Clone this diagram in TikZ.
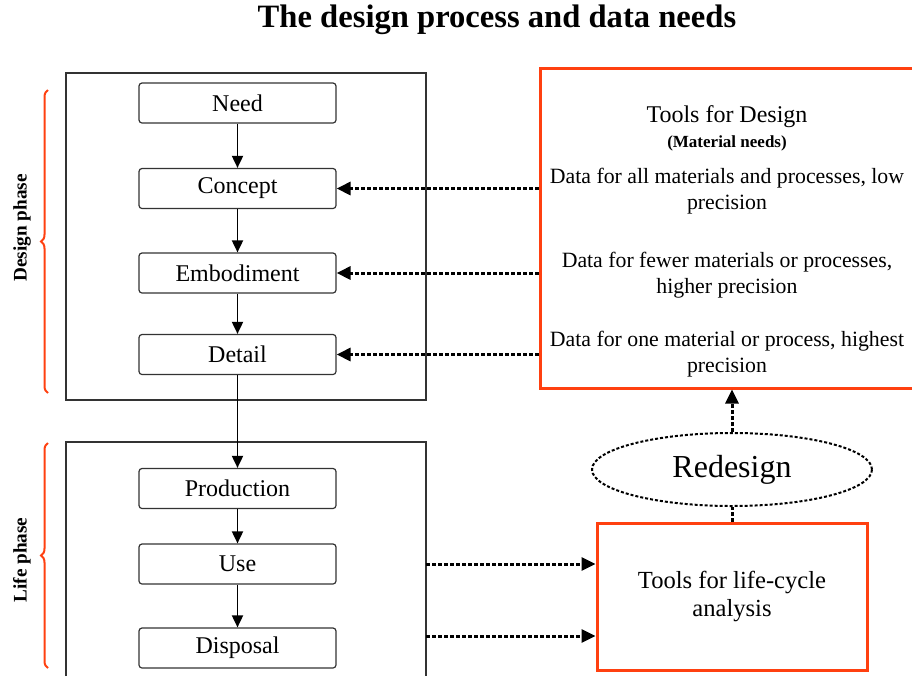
\documentclass[tikz,border=0pt]{standalone}
\usepackage{fontspec}
\setmainfont{Liberation Serif}
\usetikzlibrary{arrows.meta,shapes.geometric,decorations.pathreplacing}
\definecolor{toolred}{RGB}{255,64,16}
\tikzset{
 stage/.style={draw=black!80,line width=0.6pt,rounded corners=1.5pt,minimum width=98.5pt,minimum height=20pt,inner sep=0pt,font=\fontsize{12}{14}\selectfont},
 flow/.style={line width=0.9pt,-{Triangle[length=6pt,width=5.5pt]}},
 dataflow/.style={line width=1.5pt,dash pattern=on 2pt off 1pt,-{Triangle[length=7pt,width=6.5pt]}},
 toolbox/.style={draw=toolred,line width=1.5pt,inner sep=0pt,align=center},
 phasebrace/.style={draw=toolred,line width=1pt,decorate,decoration={brace,amplitude=3.5pt}},
 phaselabel/.style={rotate=90,font=\bfseries\fontsize{9.6}{11}\selectfont},
 datatext/.style={align=center,font=\fontsize{10.9}{13}\selectfont},
}
\begin{document}
\begin{tikzpicture}[x=0.5pt,y=-0.5pt]
 \useasboundingbox (0,0) rectangle (912,676);
 \node[font=\bfseries\fontsize{16.3}{19}\selectfont] (title) at (497,20) {The design process and data needs};
 % phases
 \node[draw=black!80,line width=0.6pt,minimum width=180pt,minimum height=163.5pt,inner sep=0pt] (designbox) at (246,236.5) {};
 \draw[black!80,line width=0.6pt] (66,676) -- (66,442) -- (426,442) -- (426,676);
 \coordinate (lifeR) at (426,442);
 \draw[phasebrace] (48,393) -- (48,90);
 \draw[phasebrace] (48,668) -- (48,443);
 \node[phaselabel] (designlbl) at (22,228) {Design phase};
 \node[phaselabel] (lifelbl) at (22,560) {Life phase};
 % stages
 \node[stage] (need) at (237.5,103) {Need};
 \node[stage] (concept) at (237.5,188.5) {Concept};
 \node[stage] (embod) at (237.5,273) {Embodiment};
 \node[stage] (detail) at (237.5,354.5) {Detail};
 \node[stage] (prod) at (237.5,488.5) {Production};
 \node[stage] (use) at (237.5,564) {Use};
 \node[stage] (disp) at (237.5,648) {Disposal};
 \draw[flow] (need) -- (concept);
 \draw[flow] (concept) -- (embod);
 \draw[flow] (embod) -- (detail);
 \draw[flow] (detail) -- (prod);
 \draw[flow] (prod) -- (use);
 \draw[flow] (use) -- (disp);
 % tools
 \node[toolbox,minimum width=187pt,minimum height=160pt] (tools) at (727,228) {};
 \node[font=\fontsize{12}{14}\selectfont] (toolstitle) at (727,117) {Tools for Design};
 \node[font=\bfseries\fontsize{8.5}{10}\selectfont] (needs) at (727,143) {(Material needs)};
 \node[datatext] (dataall) at (727,191) {Data for all materials and processes, low\\precision};
 \node[datatext] (datafew) at (727,275) {Data for fewer materials or processes,\\higher precision};
 \node[datatext] (dataone) at (727,354) {Data for one material or process, highest\\precision};
 \draw[dataflow] (concept.east -| tools.west) -- (concept.east);
 \draw[dataflow] (embod.east -| tools.west) -- (embod.east);
 \draw[dataflow] (detail.east -| tools.west) -- (detail.east);
 \node[draw,ellipse,line width=1pt,dash pattern=on 1.5pt off 1pt,minimum width=140pt,minimum height=36.5pt,font=\fontsize{16}{18}\selectfont] (redesign) at (732,469.5) {Redesign};
 \node[toolbox,minimum width=135pt,minimum height=73.5pt,font=\fontsize{12.3}{14}\selectfont] (lca) at (732,596.5) {Tools for life-cycle\\analysis};
 \draw[dataflow] (redesign.north) -- (tools.south -| redesign.north);
 \draw[line width=1.5pt,dash pattern=on 2pt off 1pt] (lca.north) -- (redesign.south);
 \draw[dataflow] (lifeR |- use.east) -- (use.east -| lca.west);
 \coordinate (dispflow) at (426,636);
 \draw[dataflow] (dispflow) -- (dispflow -| lca.west);
\end{tikzpicture}
\end{document}
